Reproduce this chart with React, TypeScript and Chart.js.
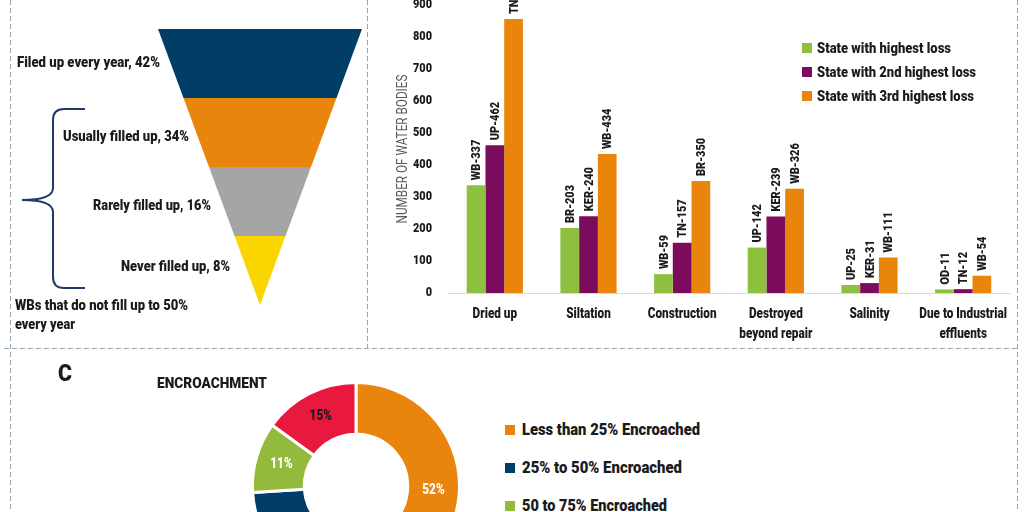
import React, { useEffect, useLayoutEffect, useRef } from "react";
import { Chart, registerables } from "chart.js";

Chart.register(...registerables);

const FONT = "Roboto, 'Liberation Sans', sans-serif";
const TEXT = "#1b1b1b";
const CONDENSE = 0.84;
const HEAVY = 900;

// ---------- Panel A: funnel ----------
const funnelLabels = [
  "Filed up every year, 42%",
  "Usually filled up, 34%",
  "Rarely filled up, 16%",
  "Never filled up, 8%",
];
const funnelValues = [42, 34, 16, 8];
const funnelColors = ["#003d67", "#e9850c", "#a5a5a5", "#fbd500"];
const funnelNote = ["WBs that do not fill up to 50%", "every year"];

// ---------- Panel B: loss by reason ----------
const lossCategories = [
  ["Dried up"],
  ["Siltation"],
  ["Construction"],
  ["Destroyed", "beyond repair"],
  ["Salinity"],
  ["Due to Industrial", "effluents"],
];
const lossSeriesNames = [
  "State with highest loss",
  "State with 2nd highest loss",
  "State with 3rd highest loss",
];
const highestValues = [337, 203, 59, 142, 25, 11];
const highestStates = ["WB", "BR", "WB", "UP", "UP", "OD"];
const secondValues = [462, 240, 157, 239, 31, 12];
const secondStates = ["UP", "KER", "TN", "KER", "KER", "TN"];
const thirdValues = [856, 434, 350, 326, 111, 54];
const thirdStates = ["TN", "WB", "BR", "WB", "WB", "WB"];
const lossColors = ["#8fbf3f", "#7a0b5d", "#ea850c"];
const yAxisMax = 900;
const yAxisStep = 100;
const yAxisTitle = "NUMBER OF WATER BODIES";

// ---------- Panel C: encroachment ----------
const encTitle = "ENCROACHMENT";
const encLabels = [
  "Less than 25% Encroached",
  "25% to 50% Encroached",
  "50 to 75% Encroached",
  "More than 75% Encroached",
];
const encValues = [52, 22, 11, 15];
const encColors = ["#e9850c", "#003d67", "#93ba3c", "#e8193c"];
const encLabelColors = ["#ffffff", "#ffffff", "#ffffff", "#1b1b1b"];

// narrows all canvas text along its baseline (the reference uses a condensed face)
const condensePlugin = {
  id: "condense",
  beforeInit(chart: any) {
    const ctx = chart.ctx;
    const orig = ctx.fillText;
    ctx.fillText = function (text: string, x: number, y: number, maxWidth?: number) {
      ctx.save();
      ctx.translate(x, y);
      ctx.scale(CONDENSE, 1);
      if (maxWidth !== undefined && maxWidth !== null) orig.call(ctx, text, 0, 0, maxWidth / CONDENSE);
      else orig.call(ctx, text, 0, 0);
      ctx.restore();
    };
  },
};

function FitText(props: { left: number; cy: number; size: number; w: number; children: any }) {
  const ref = useRef<HTMLDivElement>(null);
  useLayoutEffect(() => {
    const el = ref.current!;
    el.style.transform = "none";
    const natural = el.getBoundingClientRect().width;
    if (natural > 0) el.style.transform = `scaleX(${props.w / natural})`;
  }, [props.w]);
  return (
    <div
      ref={ref}
      style={{
        position: "absolute",
        left: props.left,
        top: props.cy - 10,
        height: 20,
        lineHeight: "20px",
        fontSize: props.size,
        fontWeight: HEAVY,
        whiteSpace: "nowrap",
        transformOrigin: "left center",
      }}
    >
      {props.children}
    </div>
  );
}

function FunnelChart() {
  const ref = useRef<HTMLCanvasElement>(null);
  useEffect(() => {
    const n = funnelValues.length;
    const hw = (lvl: number) => (n - lvl) / n;
    const datasets = funnelValues.map((_v, i) => ({
      label: funnelLabels[i],
      data: [
        { x: -hw(i), y: i },
        { x: hw(i), y: i },
        { x: hw(i + 1), y: i + 1 },
        { x: -hw(i + 1), y: i + 1 },
      ],
      showLine: true,
      fill: "shape",
      backgroundColor: funnelColors[i],
      borderColor: "rgba(0,0,0,0)",
      borderWidth: 0,
      pointRadius: 0,
    }));
    const chart = new Chart(ref.current!, {
      type: "scatter",
      data: { datasets: datasets as any },
      options: {
        animation: false,
        responsive: false,
        events: [],
        layout: { padding: 0 },
        plugins: { legend: { display: false }, tooltip: { enabled: false } },
        scales: {
          x: { display: false, min: -1.0784, max: 1.0784 },
          y: { display: false, reverse: true, min: -0.1304, max: 4.1449 },
        },
      },
    });
    return () => chart.destroy();
  }, []);
  return (
    <canvas
      ref={ref}
      width={220}
      height={295}
      style={{ position: "absolute", left: 150, top: 20, width: 220, height: 295 }}
    />
  );
}

function LossChart() {
  const ref = useRef<HTMLCanvasElement>(null);
  useEffect(() => {
    const valueSets = [highestValues, secondValues, thirdValues];
    const stateSets = [highestStates, secondStates, thirdStates];
    const labelPlugin = {
      id: "barLabels",
      afterDatasetsDraw(chart: any) {
        const ctx = chart.ctx;
        ctx.save();
        ctx.font = `${HEAVY} 13px ${FONT}`;
        ctx.fillStyle = TEXT;
        ctx.textAlign = "left";
        ctx.textBaseline = "middle";
        chart.data.datasets.forEach((_ds: any, di: number) => {
          const meta = chart.getDatasetMeta(di);
          meta.data.forEach((bar: any, i: number) => {
            const text = `${stateSets[di][i]}-${valueSets[di][i]}`;
            ctx.save();
            ctx.translate(bar.x + 1, bar.y - 5);
            ctx.rotate(-Math.PI / 2);
            ctx.fillText(text, 0, 0);
            ctx.restore();
          });
        });
        ctx.restore();
      },
    };
    const chart = new Chart(ref.current!, {
      type: "bar",
      data: {
        labels: lossCategories as any,
        datasets: valueSets.map((vals, i) => ({
          label: lossSeriesNames[i],
          data: vals,
          backgroundColor: lossColors[i],
          borderWidth: 0,
          categoryPercentage: 0.6,
          barPercentage: 1.0,
        })),
      },
      options: {
        animation: false,
        responsive: false,
        events: [],
        layout: { padding: { top: 5, right: 8, left: 0, bottom: 0 } },
        plugins: { legend: { display: false }, tooltip: { enabled: false } },
        scales: {
          x: {
            grid: { display: false, drawTicks: false },
            border: { display: true, color: "#d9d9d9", width: 1 },
            ticks: {
              padding: 12,
              color: TEXT,
              autoSkip: false,
              maxRotation: 0,
              font: { family: FONT, size: 14, weight: HEAVY as any, lineHeight: 1.4 },
            },
            afterFit: (s: any) => {
              s.height = 55;
              s.paddingLeft = 0;
              s.paddingRight = 0;
            },
          },
          y: {
            min: 0,
            max: yAxisMax,
            grid: { display: false, drawTicks: false },
            border: { display: false },
            ticks: {
              stepSize: yAxisStep,
              padding: 16,
              color: TEXT,
              font: { family: FONT, size: 13, weight: HEAVY as any },
            },
            title: {
              display: true,
              text: yAxisTitle,
              color: "#595959",
              padding: { top: 25, bottom: 0 },
              font: { family: FONT, size: 14, weight: "normal" },
            },
            afterFit: (s: any) => {
              s.width = 78;
              s.paddingTop = 0;
              s.paddingBottom = 0;
            },
          },
        },
      },
      plugins: [condensePlugin, labelPlugin],
    });
    return () => chart.destroy();
  }, []);
  return (
    <canvas
      ref={ref}
      width={648}
      height={348}
      style={{ position: "absolute", left: 370, top: 0, width: 648, height: 348 }}
    />
  );
}

function EncroachChart() {
  const ref = useRef<HTMLCanvasElement>(null);
  useEffect(() => {
    const labelPlugin = {
      id: "arcLabels",
      afterDatasetsDraw(chart: any) {
        const ctx = chart.ctx;
        ctx.save();
        ctx.font = `${HEAVY} 14px ${FONT}`;
        ctx.textAlign = "center";
        ctx.textBaseline = "middle";
        chart.getDatasetMeta(0).data.forEach((arc: any, i: number) => {
          const p = arc.tooltipPosition();
          ctx.fillStyle = encLabelColors[i];
          ctx.fillText(`${encValues[i]}%`, p.x, p.y);
        });
        ctx.restore();
      },
    };
    const chart = new Chart(ref.current!, {
      type: "doughnut",
      data: {
        labels: encLabels,
        datasets: [
          {
            data: encValues,
            backgroundColor: encColors,
            borderColor: "#ffffff",
            borderWidth: 3,
          },
        ],
      },
      options: {
        animation: false,
        responsive: false,
        events: [],
        cutout: "50%",
        rotation: 0,
        layout: { padding: 0 },
        plugins: { legend: { display: false }, tooltip: { enabled: false } },
      },
      plugins: [condensePlugin, labelPlugin],
    });
    return () => chart.destroy();
  }, []);
  return (
    <canvas
      ref={ref}
      width={210}
      height={210}
      style={{ position: "absolute", left: 251, top: 381, width: 210, height: 210 }}
    />
  );
}

export default function App() {
  // layout (reference pixel positions / widths of text)
  const funnelLabelPos = [
    [17, 63, 143],
    [63, 137, 126],
    [93, 206, 118],
    [121, 267, 109],
  ];
  const lossLegendY = [48, 72, 96];
  const lossLegendW = [134, 159, 157];
  const encLegendY = [430, 468, 506, 544];
  const encLegendW = [178, 160, 145, 182];
  const dash = "#9aa6b5";
  return (
    <div
      style={{
        position: "absolute",
        left: 0,
        top: 0,
        width: 1024,
        height: 512,
        overflow: "hidden",
        background: "#ffffff",
        fontFamily: FONT,
        color: TEXT,
      }}
    >
      <svg width={1024} height={512} style={{ position: "absolute", left: 0, top: 0 }}>
        <g stroke={dash} strokeWidth={1} strokeDasharray="5 3" fill="none">
          <line x1={10.5} y1={0} x2={10.5} y2={512} />
          <line x1={367.5} y1={0} x2={367.5} y2={348} />
          <line x1={4} y1={348.5} x2={1018} y2={348.5} />
          <line x1={1017.5} y1={0} x2={1017.5} y2={512} />
        </g>
        <path
          d="M85,109 L64,109 Q53,109 53,120 L53,188 Q53,200 22,200 Q53,200 53,212 L53,277 Q53,288 64,288 L85,288"
          stroke="#1f3b63"
          strokeWidth={2}
          fill="none"
        />
      </svg>

      <FunnelChart />
      {funnelLabels.map((l, i) => (
        <FitText key={l} left={funnelLabelPos[i][0]} cy={funnelLabelPos[i][1]} size={14.5} w={funnelLabelPos[i][2]}>
          {l}
        </FitText>
      ))}
      <FitText left={15} cy={306} size={14.5} w={173}>
        {funnelNote[0]}
      </FitText>
      <FitText left={15} cy={325} size={14.5} w={60}>
        {funnelNote[1]}
      </FitText>

      <LossChart />
      {lossSeriesNames.map((n, i) => (
        <React.Fragment key={n}>
          <div
            style={{
              position: "absolute",
              left: 802,
              top: lossLegendY[i] - 5,
              width: 10,
              height: 10,
              background: lossColors[i],
            }}
          />
          <FitText left={817} cy={lossLegendY[i]} size={15} w={lossLegendW[i]}>
            {n}
          </FitText>
        </React.Fragment>
      ))}

      <FitText left={58} cy={373} size={23.5} w={14}>
        C
      </FitText>
      <FitText left={157} cy={383} size={15.5} w={110}>
        {encTitle}
      </FitText>
      <EncroachChart />
      {encLabels.map((n, i) => (
        <React.Fragment key={n}>
          <div
            style={{
              position: "absolute",
              left: 505,
              top: encLegendY[i] - 5,
              width: 10,
              height: 10,
              background: encColors[i],
            }}
          />
          <FitText left={522} cy={encLegendY[i]} size={16.5} w={encLegendW[i]}>
            {n}
          </FitText>
        </React.Fragment>
      ))}
    </div>
  );
}
